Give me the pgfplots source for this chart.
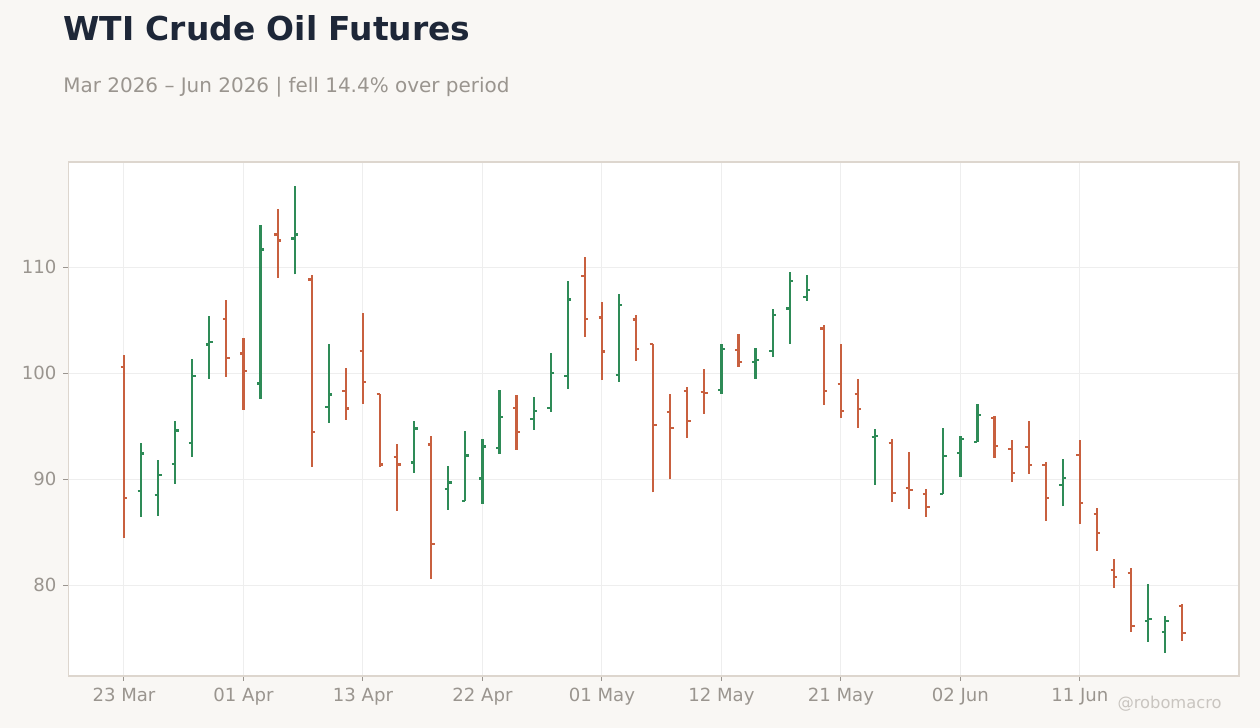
\documentclass[border=0pt]{standalone}
\usepackage{pgfplots}
\pgfplotsset{compat=1.18}
\usepackage{pgfplotstable}
\usepackage{fontspec}
\setmainfont{DejaVu Sans}

\definecolor{bg}{HTML}{F9F7F4}
\definecolor{upc}{HTML}{2E8B57}
\definecolor{dnc}{HTML}{C8603F}
\definecolor{titlec}{HTML}{1E2738}
\definecolor{subc}{HTML}{9A958F}
\definecolor{framec}{HTML}{DDD6CE}
\definecolor{gridc}{HTML}{EEEEEE}
\definecolor{markc}{HTML}{C9C5C0}

% OHLC bars, x = trading day index (tick every 7 bars)
\pgfplotstableread{
x  o      h      l      c
1  88.91  93.41  86.46  92.41
2  88.53  91.81  86.55  90.42
3  91.46  95.49  89.57  94.58
4  93.44  101.35 92.12  99.77
5  102.70 105.41 99.49  102.98
8  99.02  114.00 97.60  111.67
10 112.71 117.68 109.34 113.09
12 96.84  102.76 95.33  97.98
17 91.56  95.49  90.61  94.77
19 89.10  91.24  87.12  89.67
20 87.97  94.55  87.94  92.22
21 90.05  93.79  87.68  93.07
22 92.97  98.42  92.40  95.90
24 95.71  97.75  94.67  96.46
25 96.75  101.91 96.37  100.05
26 99.77  108.71 98.54  106.95
29 99.86  107.48 99.20  106.47
35 98.45  102.76 98.07  102.32
37 101.09 102.38 99.49  101.28
38 102.13 106.06 101.56 105.53
39 106.10 109.56 102.79 108.74
40 107.23 109.28 106.85 107.89
44 93.95  94.73  89.47  94.05
48 88.62  94.82  88.62  92.21
49 92.49  94.07  90.23  93.81
50 93.53  97.09  93.50  96.08
55 89.47  91.90  87.46  90.14
60 76.63  80.10  74.65  76.82
61 75.59  77.07  73.61  76.63
}\upbars

\pgfplotstableread{
x  o      h      l      c
0  100.62 101.72 84.47  88.25
6  105.15 106.92 99.68  101.47
7  101.85 103.33 96.56  100.24
9  113.09 115.51 109.03 112.52
11 108.84 109.28 91.18  94.48
13 98.35  100.49 95.62  96.66
14 102.13 105.69 97.13  99.20
15 98.07  98.07  91.18  91.37
16 92.12  93.32  87.02  91.37
18 93.26  94.07  80.60  83.91
23 96.75  97.94  92.78  94.48
27 109.21 110.97 103.45 105.15
28 105.25 106.73 99.39  102.04
30 105.06 105.50 101.19 102.32
31 102.79 102.79 88.75  95.14
32 96.37  98.04  89.98  94.86
33 98.35  98.70  93.92  95.52
34 98.26  100.40 96.18  98.16
36 102.22 103.70 100.62 101.06
41 104.21 104.55 97.03  98.35
42 99.01  102.76 95.80  96.46
43 98.06  99.45  94.85  96.65
45 93.44  93.78  87.87  88.72
46 89.19  92.56  87.20  89.00
47 88.62  89.06  86.45  87.39
51 95.80  95.92  92.02  93.15
52 92.87  93.69  89.75  90.60
53 93.06  95.48  90.51  91.36
54 91.36  91.62  86.08  88.22
56 92.31  93.69  85.79  87.78
57 86.74  87.27  83.24  84.94
58 81.45  82.46  79.75  80.79
59 81.17  81.61  75.59  76.16
62 78.05  78.21  74.74  75.50
}\downbars

\begin{document}
\begin{tikzpicture}
\fill[bg] (0pt,0pt) rectangle (630pt,364pt);

\node[anchor=base west, inner sep=0pt, text=titlec,
      font=\fontsize{16.45}{20}\selectfont\bfseries] at (31.5pt,343.5pt) {WTI Crude Oil Futures};
\node[anchor=base west, inner sep=0pt, text=subc,
      font=\fontsize{9.98}{12}\selectfont] at (31.5pt,317.85pt) {Mar 2026 – Jun 2026 | fell 14.4\% over period};

\begin{axis}[
    at={(34.25pt,26pt)}, anchor=south west,
    scale only axis,
    width=585.25pt, height=257pt,
    xmin=-3.25, xmax=65.32,
    ymin=71.41, ymax=119.94,
    axis background/.style={fill=white},
    axis line style={framec, line width=0.6pt},
    xtick={0,7,14,21,28,35,42,49,56},
    xticklabels={23 Mar,01 Apr,13 Apr,22 Apr,01 May,12 May,21 May,02 Jun,11 Jun},
    ytick={80,90,100,110},
    xtick pos=left, ytick pos=left,
    tick align=outside,
    major tick length=2.5pt,
    tick style={subc, line width=0.5pt},
    grid=major,
    grid style={gridc, line width=0.5pt},
    ticklabel style={font=\fontsize{9.05}{11}\selectfont, text=subc},
    /pgf/number format/assume math mode=true,
    clip=false
]
    % high-low lines
    \addplot[upc, line width=1.1pt, quiver={u=0, v=\thisrow{h}-\thisrow{l}}]
        table[x=x, y=l] {\upbars};
    \addplot[dnc, line width=1.1pt, quiver={u=0, v=\thisrow{h}-\thisrow{l}}]
        table[x=x, y=l] {\downbars};
    % open ticks (left)
    \addplot[upc, line width=1.1pt, quiver={u=0.2, v=0}]
        table[x expr=\thisrow{x}-0.2, y=o] {\upbars};
    \addplot[dnc, line width=1.1pt, quiver={u=0.2, v=0}]
        table[x expr=\thisrow{x}-0.2, y=o] {\downbars};
    % close ticks (right)
    \addplot[upc, line width=1.1pt, quiver={u=0.2, v=0}]
        table[x=x, y=c] {\upbars};
    \addplot[dnc, line width=1.1pt, quiver={u=0.2, v=0}]
        table[x=x, y=c] {\downbars};
\end{axis}

\node[anchor=base east, inner sep=0pt, text=markc,
      font=\fontsize{8.15}{10}\selectfont] at (611pt,9.5pt) {@robomacro};
\end{tikzpicture}
\end{document}
